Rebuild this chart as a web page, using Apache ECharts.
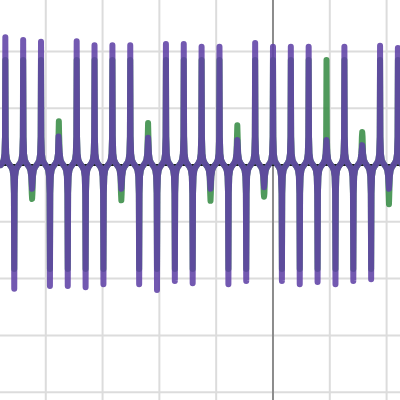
<!DOCTYPE html>
<html>
<head>
<meta charset="utf-8">
<script src="https://cdn.jsdelivr.net/npm/echarts@6/dist/echarts.min.js"></script>
<style>html,body{margin:0;padding:0;background:#fff;}#c{width:400px;height:400px;}</style>
</head>
<body>
<div id="c"></div>
<script>
// spike positions (x units)
var spikeX = [-4.712,-4.555,-4.398,-4.241,-4.084,-3.927,-3.770,-3.613,-3.456,-3.299,
  -3.142,-2.985,-2.827,-2.670,-2.513,-2.356,-2.199,-2.042,-1.885,-1.728,
  -1.571,-1.414,-1.257,-1.100,-0.942,-0.785,-0.628,-0.471,-0.314,-0.157,
  0,0.157,0.314,0.471,0.628,0.785,0.942,1.100,1.257,1.414,
  1.571,1.728,1.885,2.042,2.199];
// purple curve peak values
var purpleH = [2.25,-2.18,2.20,-0.42,2.17,-2.13,0.51,-2.13,2.18,-2.15,
  2.11,-2.10,2.11,-0.42,2.11,-2.10,0.48,-2.20,2.13,-2.04,
  2.13,-2.08,2.08,-0.42,2.08,-2.10,0.44,-2.04,2.15,-0.39,
  2.08,-2.04,2.08,-2.10,2.08,-2.06,0.44,-2.10,2.08,-2.04,
  0.35,-2.01,2.10,-0.42,2.06];
// green curve peak values
var greenH = [1.85,-1.83,1.85,-0.60,1.85,-1.83,0.77,-1.83,1.85,-1.83,
  1.85,-1.83,1.85,-0.62,1.85,-1.83,0.74,-1.83,1.85,-1.83,
  1.85,-1.83,1.85,-0.63,1.85,-1.83,0.70,-1.83,1.85,-0.56,
  1.85,-1.83,1.85,-1.83,1.85,-1.83,1.85,-1.83,1.85,-1.83,
  0.58,-1.83,1.85,-0.69,1.85];
// gridline positions
var gridX = [-4, -3, -2, -1, 1, 2];
var gridY = [-4, -3, -2, -1, 1, 2];
// flare profile near the axis (offset from spike, height)
var flareDx = [0.006, 0.015, 0.03, 0.05, 0.0785];
var flareDy = [0.5, 0.2, 0.09, 0.04, 0];

var X_MIN = -4.806, X_MAX = 2.236, Y_MIN = -4.137, Y_MAX = 2.905;

function build(hs) {
  var d = [];
  for (var i = 0; i < spikeX.length; i++) {
    var x = spikeX[i], h = hs[i], s = h > 0 ? 1 : -1;
    for (var j = flareDx.length - 1; j >= 0; j--) {
      if (flareDy[j] < Math.abs(h)) d.push([x - flareDx[j], s * flareDy[j]]);
    }
    d.push([x, h]);
    for (var j = 0; j < flareDx.length; j++) {
      if (flareDy[j] < Math.abs(h)) d.push([x + flareDx[j], s * flareDy[j]]);
    }
  }
  return d;
}

function seg(data, color, z) {
  return {type: 'line', data: data, symbol: 'none', silent: true, z: z,
    lineStyle: {color: color, width: 2}};
}

var series = [];
gridX.forEach(function (v) { series.push(seg([[v, Y_MIN], [v, Y_MAX]], '#dcdcdc', 0)); });
gridY.forEach(function (v) { series.push(seg([[X_MIN, v], [X_MAX, v]], '#dcdcdc', 0)); });
series.push(seg([[0, Y_MIN], [0, Y_MAX]], '#8c8c8c', 1));
series.push(seg([[X_MIN, 0], [X_MAX, 0]], '#1a1a1a', 1));
series.push({type: 'line', data: build(greenH), symbol: 'none', z: 2,
  lineStyle: {color: '#388c46', width: 6, opacity: 0.88, cap: 'round', join: 'round'}});
series.push({type: 'line', data: build(purpleH), symbol: 'none', z: 3,
  lineStyle: {color: '#6042a6', width: 6, opacity: 0.88, cap: 'round', join: 'round'}});

var chart = echarts.init(document.getElementById('c'), null, {renderer: 'canvas'});
chart.setOption({
  animation: false,
  grid: {left: 0, right: 0, top: 0, bottom: 0, containLabel: false},
  xAxis: {type: 'value', min: X_MIN, max: X_MAX,
    axisLine: {show: false}, axisTick: {show: false}, axisLabel: {show: false},
    splitLine: {show: false}},
  yAxis: {type: 'value', min: Y_MIN, max: Y_MAX,
    axisLine: {show: false}, axisTick: {show: false}, axisLabel: {show: false},
    splitLine: {show: false}},
  series: series
});
</script>
</body>
</html>
